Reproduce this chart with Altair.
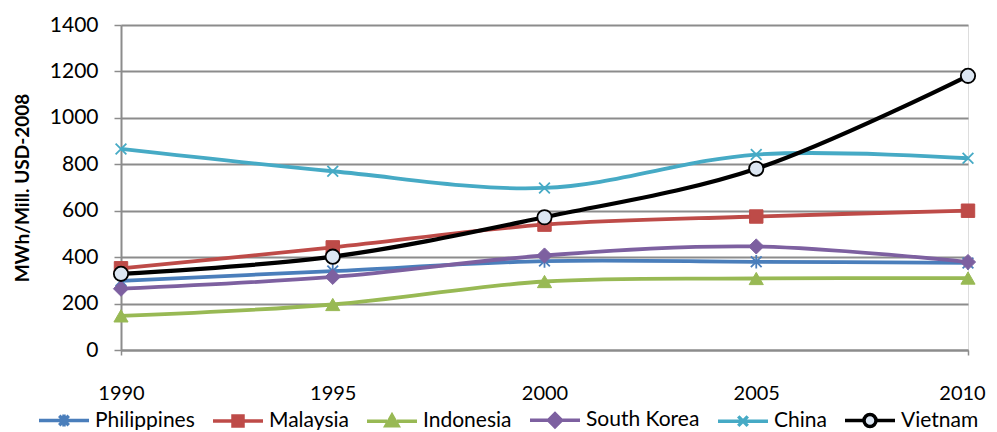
import altair as alt
import pandas as pd

years = [1990, 1995, 2000, 2005, 2010]
series = ["Philippines", "Malaysia", "Indonesia", "South Korea", "China", "Vietnam"]
philippines = [298, 340, 383, 380, 375]
malaysia = [352, 442, 540, 575, 600]
indonesia = [147, 196, 295, 308, 310]
south_korea = [264, 315, 407, 446, 379]
china = [866, 770, 698, 842, 826]
vietnam = [328, 402, 572, 781, 1181]
values = [philippines, malaysia, indonesia, south_korea, china, vietnam]

y_ticks = [0, 200, 400, 600, 800, 1000, 1200, 1400]

line_colors = ["#4A7EBB", "#BE4B48", "#98B954", "#7D60A0", "#46AAC5", "#000000"]
fill_colors = ["#4A7EBB", "#BE4B48", "#98B954", "#7D60A0", "#46AAC5", "#DCE6F2"]

# plot marker shapes
ast_path = "M0,-1V1M-0.8,-0.8L0.8,0.8M-0.8,0.8L0.8,-0.8"
x_path = "M-0.8,-0.8L0.8,0.8M-0.8,0.8L0.8,-0.8"
marker_shapes = [ast_path, "square", "triangle-up", "diamond", x_path, "circle"]
marker_sizes = [180, 180, 200, 230, 180, 205]
marker_filled = [False, True, True, True, False, True]

# legend symbols: line segment + marker (unit box -1..1)
legend_paths = [
    "M-1,0H1M0,-0.24V0.24M-0.19,-0.19L0.19,0.19M-0.19,0.19L0.19,-0.19",
    "M-1,0H-0.2M0.2,0H1M-0.2,-0.2H0.2V0.2H-0.2Z",
    "M-1,0H-0.2M0.2,0H1M0,-0.24L0.24,0.18H-0.24Z",
    "M-1,0H-0.26M0.26,0H1M0,-0.26L0.26,0L0,0.26L-0.26,0Z",
    "M-1,0H1M-0.19,-0.19L0.19,0.19M-0.19,0.19L0.19,-0.19",
    "M-1,0H-0.24M0.24,0H1M-0.24,0A0.24,0.24 0 1,0 0.24,0A0.24,0.24 0 1,0 -0.24,0Z",
]

rows = []
for s, vals in zip(series, values):
    for yr, v in zip(years, vals):
        rows.append({"year": yr, "value": v, "series": s})
df = pd.DataFrame(rows)

FONT = "Lato"
GRID = "#8C8C8C"

x_enc = alt.X(
    "year:Q",
    scale=alt.Scale(domain=[1990, 2010], nice=False, zero=False),
    axis=alt.Axis(
        values=years, format="d", title=None, grid=False, labelFlush=False,
        labelFont=FONT, labelFontSize=20, labelColor="#000000",
        labelPadding=28, tickSize=5, tickColor=GRID, tickWidth=1.5,
        labelOffset=alt.condition("datum.value == 2010", alt.value(-6), alt.value(0)),
        tickOpacity=alt.condition("datum.value == 1990 || datum.value == 2010", alt.value(1), alt.value(0)),
        domainColor=GRID, domainWidth=2,
    ),
)
y_enc = alt.Y(
    "value:Q",
    scale=alt.Scale(domain=[0, 1400], nice=False),
    axis=alt.Axis(
        values=y_ticks, format="d", title="MWh/Mill. USD-2008",
        titleFont=FONT, titleFontSize=19, titleFontWeight="bold", titleColor="#000000",
        titleX=-89,
        labelFont=FONT, labelFontSize=21, labelColor="#000000", labelPadding=16,
        tickSize=7, tickColor=GRID, tickWidth=1.5,
        gridColor=GRID, gridWidth=1.8,
        domainColor=GRID, domainWidth=2,
    ),
)

stroke_scale = alt.Scale(domain=series, range=line_colors)
fill_scale = alt.Scale(domain=series, range=fill_colors)

leg = alt.Legend(
    title=None, orient="none", legendX=-84, legendY=368, direction="horizontal",
    columns=6, labelFont=FONT, labelFontSize=21, labelColor="#000000",
    symbolSize=2500, symbolStrokeWidth=3.5, labelOffset=4, columnPadding=11,
    symbolOpacity=1,
)

base = alt.Chart(df)

legend_layer = base.transform_filter("false").mark_point(filled=True, opacity=1).encode(
    x=x_enc, y=y_enc,
    shape=alt.Shape("series:N", scale=alt.Scale(domain=series, range=legend_paths), legend=leg),
    fill=alt.Fill("series:N", scale=fill_scale, legend=leg),
    stroke=alt.Stroke("series:N", scale=stroke_scale, legend=leg),
)

lines = base.mark_line(interpolate="catmull-rom").encode(
    x=x_enc, y=y_enc,
    stroke=alt.Stroke("series:N", scale=stroke_scale, legend=leg),
    strokeWidth=alt.condition("datum.series == 'Vietnam'", alt.value(4.2), alt.value(3.8)),
)

marker_layers = []
for s, shp, sz, filled in zip(series, marker_shapes, marker_sizes, marker_filled):
    enc = dict(
        x=x_enc, y=y_enc,
        stroke=alt.Stroke("series:N", scale=stroke_scale, legend=leg),
    )
    if filled:
        enc["fill"] = alt.Fill("series:N", scale=fill_scale, legend=leg)
    layer = base.transform_filter(alt.datum.series == s).mark_point(
        shape=shp, size=sz, filled=filled, opacity=1,
        strokeWidth=(1.8 if s == "Vietnam" else (1.8 if not filled else 1)),
    ).encode(**enc)
    marker_layers.append(layer)

chart = alt.layer(legend_layer, lines, *marker_layers).properties(
    width=847, height=325,
    autosize=alt.AutoSizeParams(type="none"),
    padding={"left": 113, "top": 17, "right": 21, "bottom": 80},
).configure_view(stroke=None).configure(background="white")

chart.save("out.html", embed_options={"renderer": "svg", "actions": False})
